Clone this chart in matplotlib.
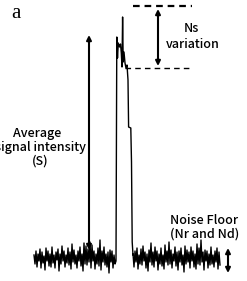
import matplotlib.pyplot as plt
import numpy as np

# noise floor samples (intensity, arbitrary units), one per sample index
left_start = 34
left_noise = [3, -6, 7, -9, 4, -3, 9, -10, 6, -5, 2, -12, 10, -3, 7, -8, 4, -9, 11, -5,
              3, -10, 6, -2, 9, -13, 4, -6, 12, -3, 7, -9, 3, -5, 10, -7, 6, -11, 14, -4,
              8, -6, 3, -10, 7, -3, 11, -8, 4, -13, 15, -6, 12, -7, 9, -4, 16, -10, 13, -3,
              7, -11, 4, -6, 10, -8, 18, -12, 7, -4, 11, -7, 4, -9, 6, -15, 8, -4, 7, -10,
              3, -6]
right_start = 133
right_noise = [4, -9, 7, -4, 10, -11, 3, -6, 9, -7, 12, -3, 6, -10, 4, -13, 8, -4, 15, -7,
               6, -9, 11, -3, 7, -12, 4, -6, 10, -8, 3, -11, 13, -4, 7, -7, 16, -6, 8, -10,
               4, -3, 11, -8, 6, -12, 7, -4, 10, -7, 3, -14, 12, -6, 8, -4, 6, -10, 11, -3,
               7, -9, 4, -11, 14, -6, 10, -7, 18, -4, 6, -12, 8, -3, 7, -10, 4, -7, 11, -6,
               3, -9, 7, -4, 10, -11, 6, -7]

# the peak between the two noise segments
peak_x = [116.0, 116.8, 117.5, 118.3, 119.5, 120.5, 121.3, 122.0, 122.6, 123.2,
          124.0, 125.0, 126.0, 127.0, 128.0, 128.6, 130.8, 131.5, 132.2, 133.0]
peak_y = [-3, 221, 200, 215, 211, 214, 205, 191, 241, 196,
          206, 195, 190, 193, 178, 131, 130, 96, 16, 3]

S_top, S_bottom = 223, 8
Ns_top, Ns_bottom = 252, 190

x = np.concatenate([left_start + np.arange(len(left_noise)), peak_x,
                    right_start + np.arange(len(right_noise))])
y = np.concatenate([left_noise, peak_y, right_noise])

fig = plt.figure(figsize=(2.47, 2.81), dpi=100, facecolor="w")
ax = fig.add_axes([0, 0, 1, 1])
ax.set_xlim(0, 247)
ax.set_ylim(-23, 258)
ax.axis("off")

ax.plot(x, y, color="black", lw=1.0)

# Ns variation guides
ax.plot([133, 192], [Ns_top, Ns_top], color="black", lw=1.6, ls=(0, (3, 2.2)))
ax.plot([125, 192], [Ns_bottom, Ns_bottom], color="black", lw=1.0, ls=(0, (4, 3)))

arrow = dict(arrowstyle="<|-|>", color="black", lw=1.5, mutation_scale=7, shrinkA=0, shrinkB=0)
ax.annotate("", xy=(158, Ns_top - 3), xytext=(158, Ns_bottom + 2), arrowprops=arrow)
ax.annotate("", xy=(89, S_top), xytext=(89, S_bottom), arrowprops=arrow)
ax.annotate("", xy=(228, 10), xytext=(228, -15), arrowprops=arrow)

tkw = dict(ha="center", va="center", fontsize=9, fontweight="medium",
           family=["Noto Sans CJK JP", "DejaVu Sans"])
ax.text(191.5, 230, "Ns", **tkw)
ax.text(193, 214, "variation", **tkw)
ax.text(37, 124, "Average", **tkw)
ax.text(40, 110, "signal intensity", **tkw)
ax.text(40, 97, "(S)", **tkw)
ax.text(204, 37, "Noise Floor", **tkw)
ax.text(204.5, 24, "(Nr and Nd)", **tkw)
ax.text(16, 245, "a", ha="center", va="center", fontsize=15, family="Liberation Serif")

fig.savefig("out.png", dpi=100)
